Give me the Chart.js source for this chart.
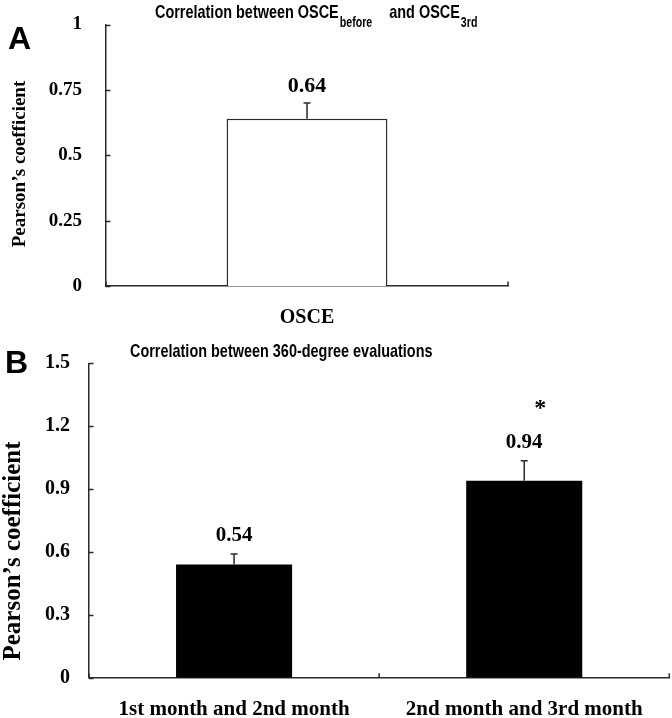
<!DOCTYPE html>
<html>
<head>
<meta charset="utf-8">
<script src="https://cdn.jsdelivr.net/npm/chart.js@4.4.1/dist/chart.umd.min.js"></script>
<style>
html, body { margin: 0; padding: 0; background: #fff; }
#wrap { position: relative; width: 672px; height: 718px; overflow: hidden; background: #fff; }
canvas { position: absolute; left: 0; }
#chartA { top: 0; }
#chartB { top: 340px; }
</style>
</head>
<body>
<div id="wrap">
  <canvas id="chartA" width="672" height="340"></canvas>
  <canvas id="chartB" width="672" height="378"></canvas>
</div>
<script>
// ---------- data ----------
const categoriesA = ['OSCE'];
const valuesA = [0.64];
const errorsA = [0.06];
const yMinA = 0, yMaxA = 1, yStepA = 0.25;
const yTickLabelsA = ['0', '0.25', '0.5', '0.75', '1'];

const categoriesB = ['1st month and 2nd month', '2nd month and 3rd month'];
const valuesB = [0.54, 0.94];
const errorsB = [0.05, 0.095];
const marksB = ['', '*'];
const yMinB = 0, yMaxB = 1.5, yStepB = 0.3;
const yTickLabelsB = ['0', '0.3', '0.6', '0.9', '1.2', '1.5'];

const yAxisTitle = 'Pearson\u2019s coefficient';
const titleA = [
  { text: 'Correlation between OSCE', sub: false },
  { text: 'before', sub: true },
  { text: 'and OSCE', sub: false, gap: 16 },
  { text: '3rd', sub: true }
];
const titleB = [{ text: 'Correlation between 360-degree evaluations', sub: false }];

// ---------- styling ----------
const SERIF = '"Liberation Serif", "Times New Roman", serif';
const SANS = '"Liberation Sans", Arial, sans-serif';
const AXIS = '#2a2a2a';

const deco = {
  id: 'deco',
  afterDatasetsDraw(chart, args, o) {
    const ctx = chart.ctx;
    const ys = chart.scales.y, xs = chart.scales.x;
    const meta = chart.getDatasetMeta(0);
    const ds = chart.data.datasets[0];
    ctx.save();
    meta.data.forEach((bar, i) => {
      const v = ds.data[i], e = o.errors[i];
      const yBar = ys.getPixelForValue(v);
      const yTop = ys.getPixelForValue(v + e);
      ctx.strokeStyle = AXIS;
      ctx.lineWidth = 1.5;
      ctx.beginPath();
      ctx.moveTo(bar.x, yBar);
      ctx.lineTo(bar.x, yTop);
      ctx.moveTo(bar.x - o.cap, yTop);
      ctx.lineTo(bar.x + o.cap, yTop);
      ctx.stroke();
      ctx.fillStyle = '#000';
      ctx.textAlign = 'center';
      ctx.textBaseline = 'alphabetic';
      ctx.font = o.valueFont;
      ctx.fillText(v.toFixed(2), bar.x, yTop - o.valueGap);
      if (o.marks && o.marks[i]) {
        ctx.font = o.markFont;
        ctx.fillText(o.marks[i], bar.x + o.markDx, yTop - o.markGap);
      }
    });
    ctx.strokeStyle = AXIS;
    ctx.lineWidth = 1.5;
    ctx.beginPath();
    ys.ticks.forEach(t => {
      const y = Math.round(ys.getPixelForValue(t.value)) + 0.5;
      ctx.moveTo(ys.right, y);
      ctx.lineTo(ys.right + o.tickLen, y);
    });
    const n = chart.data.labels.length;
    const step = (xs.right - xs.left) / n;
    for (let i = 0; i <= n; i++) {
      const x = xs.left + i * step;
      ctx.moveTo(x, xs.top);
      ctx.lineTo(x, xs.top - o.tickLen);
    }
    ctx.stroke();
    ctx.restore();
  },
  afterDraw(chart, args, o) {
    const ctx = chart.ctx;
    ctx.save();
    ctx.fillStyle = '#000';
    ctx.font = o.letterFont;
    ctx.textAlign = 'left';
    ctx.textBaseline = 'alphabetic';
    ctx.fillText(o.letter, o.letterX, o.letterY);
    // condensed sans title with subscripts
    let x = o.titleX;
    o.title.forEach(p => {
      if (p.gap) x += p.gap;
      ctx.font = p.sub ? o.subFont : o.titleFont;
      const y = p.sub ? o.titleY + o.subDy : o.titleY;
      ctx.save();
      ctx.translate(x, y);
      ctx.scale(o.condense, 1);
      ctx.fillText(p.text, 0, 0);
      ctx.restore();
      x += ctx.measureText(p.text).width * o.condense + 1;
    });
    ctx.translate(o.yTitleX, o.yTitleY);
    ctx.rotate(-Math.PI / 2);
    ctx.font = o.yTitleFont;
    ctx.textAlign = 'center';
    ctx.fillText(yAxisTitle, 0, 0);
    ctx.restore();
  }
};

function buildChart(canvas, cfg) {
  return new Chart(canvas, {
    type: 'bar',
    data: {
      labels: cfg.labels,
      datasets: [{
        data: cfg.values,
        backgroundColor: cfg.fill,
        borderColor: AXIS,
        borderWidth: cfg.borderWidth,
        barPercentage: 0.4,
        categoryPercentage: 1
      }]
    },
    options: {
      responsive: false,
      animation: false,
      devicePixelRatio: 1,
      layout: { padding: cfg.padding },
      plugins: {
        legend: { display: false },
        tooltip: { enabled: false },
        title: { display: false },
        deco: cfg.deco
      },
      scales: {
        x: {
          grid: { display: false, drawTicks: false },
          border: { display: true, color: AXIS, width: 1.5 },
          ticks: { color: '#000', font: { family: SERIF, size: cfg.xFont, weight: 'bold' }, padding: cfg.xPad, maxRotation: 0, autoSkip: false },
          afterFit(s) { s.height = cfg.xHeight; s.paddingLeft = 0; s.paddingRight = 0; }
        },
        y: {
          min: cfg.yMin, max: cfg.yMax,
          grid: { display: false, drawTicks: false },
          border: { display: true, color: AXIS, width: 1.5 },
          ticks: {
            stepSize: cfg.yStep, color: '#000',
            font: { family: SERIF, size: cfg.yFont, weight: 'bold' }, padding: cfg.yPad,
            callback: (v, i) => cfg.yLabels[i]
          },
          afterFit(s) { s.width = cfg.yWidth; s.paddingTop = 0; s.paddingBottom = 0; }
        }
      }
    },
    plugins: [deco]
  });
}

buildChart(document.getElementById('chartA'), {
  labels: categoriesA, values: valuesA, fill: '#ffffff', borderWidth: 1.5,
  padding: { top: 24.5, right: 164, left: 0, bottom: 0 },
  xFont: 20, xPad: 20, xHeight: 54,
  yMin: yMinA, yMax: yMaxA, yStep: yStepA, yLabels: yTickLabelsA, yFont: 19, yPad: 24, yWidth: 106,
  deco: {
    errors: errorsA, cap: 3.5, tickLen: 4.5,
    valueFont: 'bold 22px ' + SERIF, valueGap: 11,
    letter: 'A', letterFont: 'bold 32px ' + SANS, letterX: 8, letterY: 49,
    title: titleA, titleX: 155, titleY: 18, subDy: 9, condense: 0.76,
    titleFont: 'bold 19px ' + SANS, subFont: 'bold 14px ' + SANS,
    yTitleX: 25, yTitleY: 164, yTitleFont: 'bold 19px ' + SERIF
  }
});

buildChart(document.getElementById('chartB'), {
  labels: categoriesB, values: valuesB, fill: '#000000', borderWidth: 0,
  padding: { top: 23.3, right: 2.7, left: 0, bottom: 0 },
  xFont: 21, xPad: 19, xHeight: 40.3,
  yMin: yMinB, yMax: yMaxB, yStep: yStepB, yLabels: yTickLabelsB, yFont: 20, yPad: 19, yWidth: 89,
  deco: {
    errors: errorsB, marks: marksB, cap: 3.5, tickLen: 4.5,
    valueFont: 'bold 21px ' + SERIF, valueGap: 13,
    markFont: 'bold 24px ' + SERIF, markDx: 16, markGap: 46,
    letter: 'B', letterFont: 'bold 32px ' + SANS, letterX: 5, letterY: 33,
    title: titleB, titleX: 130, titleY: 17, subDy: 9, condense: 0.76,
    titleFont: 'bold 19px ' + SANS, subFont: 'bold 14px ' + SANS,
    yTitleX: 20, yTitleY: 211, yTitleFont: 'bold 25px ' + SERIF
  }
});
</script>
</body>
</html>
